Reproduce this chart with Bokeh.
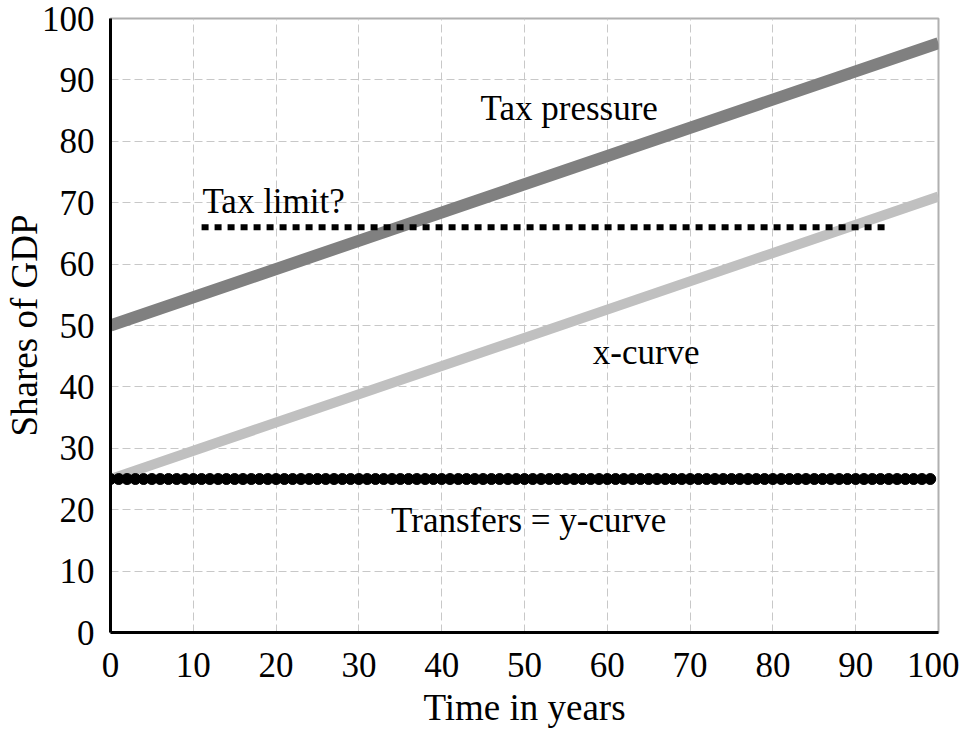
from bokeh.plotting import figure
from bokeh.models import Range1d, Label, FixedTicker
from bokeh.embed import file_html
from bokeh.resources import INLINE

# Data
years = [0, 100]
tax_pressure = [50, 96]
x_curve = [25, 71]
tax_limit_x = [11, 94]
tax_limit_y = [66, 66]
transfer_years = list(range(0, 100))
transfers = [25] * len(transfer_years)
ticks = list(range(0, 101, 10))

FONT = "Liberation Serif"

p = figure(width=959, height=734, output_backend="svg", toolbar_location=None,
           x_range=Range1d(0, 100), y_range=Range1d(0, 100),
           min_border_left=108, min_border_right=21, min_border_top=18, min_border_bottom=102)

p.background_fill_color = "white"
p.border_fill_color = "white"
p.outline_line_color = "#b0b0b0"
p.outline_line_width = 2

for g in (p.xgrid, p.ygrid):
    g.grid_line_color = "#c8c8c8"
    g.grid_line_dash = "8 4"
    g.grid_line_width = 1
    g.ticker = FixedTicker(ticks=ticks)

for ax in (p.xaxis, p.yaxis):
    ax.ticker = FixedTicker(ticks=ticks)
    ax.axis_line_color = "black"
    ax.axis_line_width = 3
    ax.major_tick_line_color = None
    ax.minor_tick_line_color = None
    ax.major_label_text_font = FONT
    ax.major_label_text_font_size = "35px"
    ax.major_label_text_color = "black"
    ax.axis_label_text_font = FONT
    ax.axis_label_text_font_size = "37px"
    ax.axis_label_text_font_style = "normal"
    ax.axis_label_text_color = "black"

p.xaxis.axis_label = "Time in years"
p.yaxis.axis_label = "Shares of GDP"
p.xaxis.major_label_standoff = 14
p.yaxis.major_label_standoff = 10
p.xaxis.axis_label_standoff = 7
p.yaxis.axis_label_standoff = -6

p.line(years, tax_pressure, line_color="#808080", line_width=12)
p.line(years, x_curve, line_color="#c0c0c0", line_width=10)
p.line(tax_limit_x, tax_limit_y, line_color="black", line_width=6, line_dash="7 6")
p.scatter(transfer_years, transfers, size=11, color="black")

for txt, x, y, align in [("Tax pressure", 55.4, 85.3, "center"),
                         ("Tax limit?", 11.1, 70.2, "left"),
                         ("x-curve", 64.7, 45.6, "center"),
                         ("Transfers = y-curve", 50.5, 18.2, "center")]:
    p.add_layout(Label(x=x, y=y, text=txt, text_font=FONT, text_font_size="35px",
                       text_align=align, text_baseline="middle", text_color="black"))

open("out.html", "w").write(file_html(p, INLINE))
